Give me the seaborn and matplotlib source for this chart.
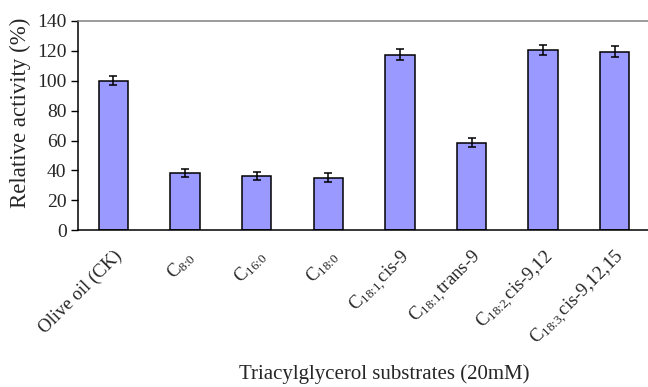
import matplotlib
matplotlib.use("Agg")
import matplotlib.pyplot as plt
import seaborn as sns
import pandas as pd

# Substrates tested and measured relative activity (olive oil = 100 %)
substrates = [
    "Olive oil (CK)",
    r"C$_{\text{8:0}}$",
    r"C$_{\text{16:0}}$",
    r"C$_{\text{18:0}}$",
    r"C$_{\text{18:1,}}$cis-9",
    r"C$_{\text{18:1,}}$trans-9",
    r"C$_{\text{18:2,}}$cis-9,12",
    r"C$_{\text{18:3,}}$cis-9,12,15",
]
activity = [100.0, 38.3, 36.3, 35.2, 117.3, 58.6, 120.5, 119.5]
sd = [2.9, 3.0, 2.8, 2.9, 3.6, 3.1, 3.1, 3.4]
y_ticks = [0, 20, 40, 60, 80, 100, 120, 140]

df = pd.DataFrame({"substrate": substrates, "activity": activity, "sd": sd})

sns.set_theme(style="white")
plt.rcParams["font.family"] = ["Liberation Serif", "DejaVu Serif"]
plt.rcParams["mathtext.fontset"] = "custom"
plt.rcParams["mathtext.rm"] = "Liberation Serif"
plt.rcParams["mathtext.it"] = "Liberation Serif:italic"
plt.rcParams["mathtext.bf"] = "Liberation Serif:bold"

fig = plt.figure(figsize=(6.48, 3.87), dpi=100)
ax = fig.add_axes([0.1199, 0.405, 0.884, 0.541])

sns.barplot(data=df, x="substrate", y="activity", ax=ax,
            color="#9999FF", saturation=1, width=0.41,
            edgecolor="black", linewidth=1.1, errorbar=None)

ax.errorbar(range(len(df)), df["activity"], yerr=df["sd"], fmt="none",
            ecolor="black", elinewidth=1.1, capsize=3.2, capthick=1.1)

ax.set_xlim(-0.5, len(df) - 0.5)
ax.set_ylim(0, 140)
ax.set_yticks(y_ticks)
ax.set_yticklabels([str(t) for t in y_ticks], fontsize=14)

ax.set_xticks(range(len(df)))
ax.set_xticklabels(df["substrate"], rotation=45, ha="right",
                   rotation_mode="anchor", fontsize=13.5)
ax.tick_params(axis="x", length=0, pad=12)

# category separators on the x axis, pointing up into the plot
ax.set_xticks([i + 0.5 for i in range(len(df) - 1)], minor=True)
ax.tick_params(axis="x", which="minor", direction="in", length=4,
               width=1, color="black")
ax.tick_params(axis="y", direction="out", length=5, width=1,
               color="black", left=True, pad=3)

for side in ["left", "bottom"]:
    ax.spines[side].set_color("black")
    ax.spines[side].set_linewidth(1.1)
ax.spines["top"].set_color("#808080")
ax.spines["top"].set_linewidth(1.1)
ax.spines["right"].set_visible(False)

ax.set_ylabel("Relative activity (%)", fontsize=16.5)
ax.yaxis.set_label_coords(-0.082, 0.563)
ax.set_xlabel("Triacylglycerol substrates (20mM)", fontsize=15)
ax.xaxis.set_label_coords(0.536, -0.64)

fig.savefig("out.png", dpi=100)
